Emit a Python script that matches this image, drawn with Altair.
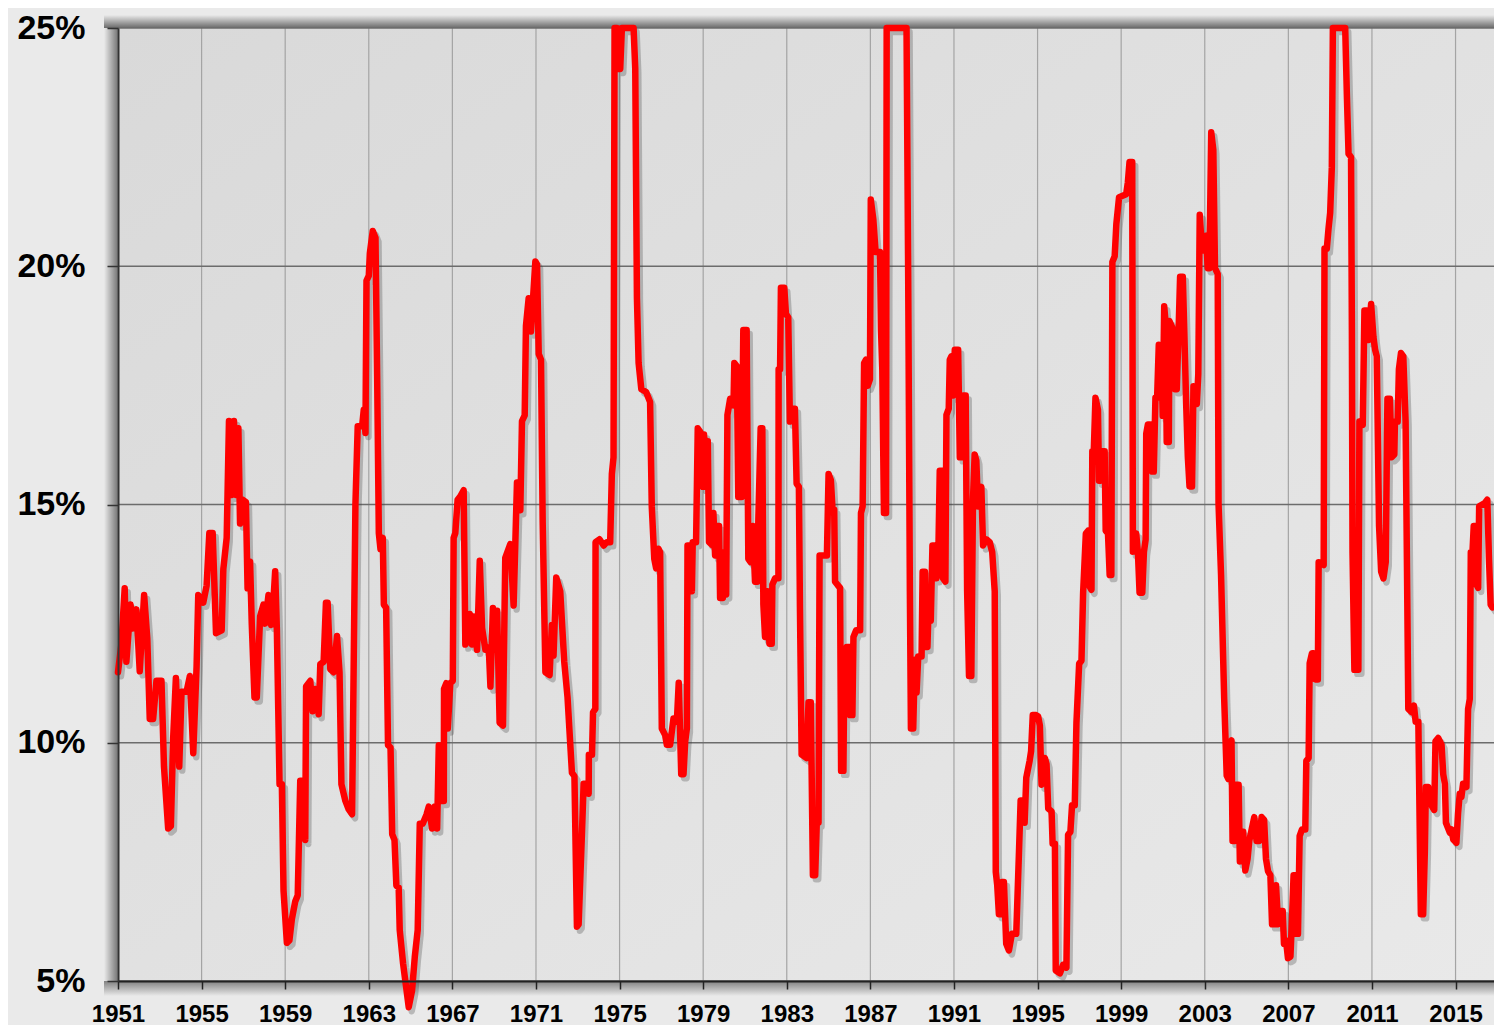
import altair as alt
import pandas as pd

# ---- data (decimal year, percent) ----
YEARS = [
    1951.00, 1951.16, 1951.32, 1951.40, 1951.60, 1951.72, 1951.88, 1952.04,
    1952.25, 1952.40, 1952.52, 1952.68, 1952.84, 1953.08, 1953.20, 1953.40,
    1953.53, 1953.64, 1953.77, 1953.93, 1954.04, 1954.28, 1954.44, 1954.60,
    1954.76, 1954.84, 1955.08, 1955.24, 1955.37, 1955.53, 1955.69, 1955.96,
    1956.04, 1956.20, 1956.31, 1956.44, 1956.55, 1956.65, 1956.76, 1956.84,
    1956.97, 1957.12, 1957.20, 1957.32, 1957.40, 1957.53, 1957.64, 1957.80,
    1957.96, 1958.04, 1958.20, 1958.33, 1958.44, 1958.52, 1958.60, 1958.73,
    1958.84, 1958.92, 1959.08, 1959.20, 1959.32, 1959.48, 1959.60, 1959.72,
    1959.84, 1959.96, 1960.00, 1960.20, 1960.31, 1960.44, 1960.60, 1960.68,
    1960.84, 1960.95, 1961.03, 1961.16, 1961.32, 1961.48, 1961.60, 1961.69,
    1961.88, 1962.04, 1962.20, 1962.36, 1962.47, 1962.68, 1962.76, 1962.84,
    1962.89, 1963.00, 1963.05, 1963.19, 1963.32, 1963.40, 1963.48, 1963.56,
    1963.67, 1963.72, 1963.83, 1963.92, 1964.04, 1964.12, 1964.23, 1964.32,
    1964.43, 1964.48, 1964.64, 1964.91, 1965.07, 1965.20, 1965.34, 1965.44,
    1965.58, 1965.76, 1965.87, 1966.03, 1966.16, 1966.27, 1966.35, 1966.46,
    1966.59, 1966.60, 1966.71, 1966.78, 1966.90, 1967.02, 1967.06, 1967.14,
    1967.25, 1967.38, 1967.54, 1967.62, 1967.78, 1967.83, 1967.94, 1968.02,
    1968.18, 1968.31, 1968.42, 1968.58, 1968.74, 1968.82, 1968.94, 1969.06,
    1969.14, 1969.26, 1969.42, 1969.53, 1969.77, 1969.93, 1970.09, 1970.25,
    1970.33, 1970.46, 1970.52, 1970.65, 1970.76, 1970.86, 1970.97, 1971.05,
    1971.13, 1971.24, 1971.32, 1971.45, 1971.65, 1971.76, 1971.84, 1971.97,
    1972.16, 1972.35, 1972.51, 1972.72, 1972.84, 1972.96, 1973.04, 1973.20,
    1973.28, 1973.41, 1973.52, 1973.53, 1973.68, 1973.73, 1973.84, 1973.85,
    1974.04, 1974.24, 1974.39, 1974.55, 1974.63, 1974.71, 1974.76, 1974.87,
    1974.95, 1975.03, 1975.11, 1975.67, 1975.75, 1975.83, 1975.91, 1976.04,
    1976.27, 1976.46, 1976.54, 1976.66, 1976.75, 1976.86, 1976.94, 1977.02,
    1977.18, 1977.26, 1977.42, 1977.58, 1977.74, 1977.83, 1977.95, 1978.06,
    1978.14, 1978.22, 1978.25, 1978.38, 1978.46, 1978.50, 1978.66, 1978.74,
    1978.85, 1978.98, 1979.04, 1979.14, 1979.22, 1979.28, 1979.46, 1979.49,
    1979.57, 1979.65, 1979.76, 1979.81, 1979.94, 1980.00, 1980.10, 1980.16,
    1980.29, 1980.45, 1980.49, 1980.61, 1980.68, 1980.84, 1980.92, 1981.08,
    1981.16, 1981.27, 1981.37, 1981.48, 1981.59, 1981.64, 1981.75, 1981.83,
    1981.88, 1981.96, 1982.07, 1982.17, 1982.28, 1982.31, 1982.44, 1982.60,
    1982.61, 1982.68, 1982.72, 1982.88, 1982.96, 1983.07, 1983.15, 1983.23,
    1983.39, 1983.47, 1983.58, 1983.63, 1983.71, 1983.95, 1984.04, 1984.15,
    1984.25, 1984.36, 1984.44, 1984.52, 1984.57, 1984.92, 1985.00, 1985.11,
    1985.19, 1985.27, 1985.31, 1985.55, 1985.60, 1985.71, 1985.76, 1985.82,
    1985.87, 1986.00, 1986.03, 1986.14, 1986.19, 1986.32, 1986.51, 1986.55,
    1986.63, 1986.70, 1986.79, 1986.87, 1986.98, 1987.02, 1987.14, 1987.25,
    1987.46, 1987.51, 1987.57, 1987.65, 1987.75, 1987.78, 1988.73, 1988.81,
    1988.89, 1988.94, 1989.05, 1989.13, 1989.21, 1989.29, 1989.45, 1989.50,
    1989.61, 1989.66, 1989.73, 1989.81, 1989.89, 1989.97, 1990.08, 1990.16,
    1990.24, 1990.32, 1990.45, 1990.48, 1990.59, 1990.64, 1990.75, 1990.80,
    1990.88, 1990.96, 1991.04, 1991.20, 1991.28, 1991.39, 1991.44, 1991.56,
    1991.63, 1991.72, 1991.83, 1991.91, 1991.99, 1992.07, 1992.15, 1992.31,
    1992.39, 1992.55, 1992.71, 1992.83, 1992.95, 1993.00, 1993.07, 1993.15,
    1993.23, 1993.30, 1993.39, 1993.50, 1993.63, 1993.77, 1993.98, 1994.11,
    1994.19, 1994.30, 1994.38, 1994.46, 1994.62, 1994.69, 1994.77, 1994.93,
    1995.03, 1995.11, 1995.19, 1995.27, 1995.35, 1995.43, 1995.51, 1995.67,
    1995.72, 1995.83, 1995.87, 1996.07, 1996.22, 1996.38, 1996.46, 1996.57,
    1996.65, 1996.78, 1996.86, 1996.99, 1997.10, 1997.18, 1997.31, 1997.42,
    1997.50, 1997.58, 1997.62, 1997.69, 1997.77, 1997.89, 1997.94, 1998.02,
    1998.10, 1998.21, 1998.26, 1998.37, 1998.45, 1998.53, 1998.58, 1998.69,
    1998.77, 1998.90, 1999.24, 1999.32, 1999.40, 1999.53, 1999.56, 1999.72,
    1999.80, 1999.88, 2000.01, 2000.09, 2000.17, 2000.20, 2000.28, 2000.39,
    2000.48, 2000.56, 2000.64, 2000.72, 2000.80, 2000.91, 2000.99, 2001.06,
    2001.12, 2001.18, 2001.28, 2001.31, 2001.44, 2001.50, 2001.57, 2001.66,
    2001.74, 2001.82, 2001.95, 2002.03, 2002.11, 2002.19, 2002.27, 2002.39,
    2002.46, 2002.54, 2002.62, 2002.69, 2002.76, 2002.87, 2002.98, 2003.06,
    2003.14, 2003.22, 2003.31, 2003.41, 2003.49, 2003.62, 2003.66, 2003.78,
    2003.93, 2004.05, 2004.13, 2004.21, 2004.28, 2004.33, 2004.44, 2004.49,
    2004.62, 2004.68, 2004.78, 2004.84, 2004.94, 2005.05, 2005.13, 2005.25,
    2005.37, 2005.48, 2005.60, 2005.72, 2005.84, 2005.93, 2006.03, 2006.14,
    2006.22, 2006.35, 2006.41, 2006.51, 2006.62, 2006.73, 2006.79, 2006.89,
    2006.98, 2007.10, 2007.17, 2007.25, 2007.33, 2007.38, 2007.46, 2007.54,
    2007.65, 2007.81, 2007.86, 2007.97, 2008.02, 2008.13, 2008.21, 2008.29,
    2008.41, 2008.45, 2008.69, 2008.73, 2008.84, 2008.92, 2009.00, 2009.08,
    2009.13, 2009.72, 2009.80, 2009.88, 2010.00, 2010.04, 2010.07, 2010.16,
    2010.35, 2010.40, 2010.56, 2010.64, 2010.75, 2010.83, 2010.96, 2011.07,
    2011.15, 2011.23, 2011.34, 2011.44, 2011.55, 2011.66, 2011.74, 2011.86,
    2011.94, 2012.07, 2012.10, 2012.23, 2012.29, 2012.39, 2012.50, 2012.61,
    2012.74, 2012.90, 2013.01, 2013.09, 2013.22, 2013.30, 2013.34, 2013.45,
    2013.53, 2013.58, 2013.69, 2013.77, 2013.88, 2013.98, 2014.04, 2014.17,
    2014.33, 2014.41, 2014.49, 2014.54, 2014.73, 2014.81, 2014.89, 2015.04,
    2015.12, 2015.20, 2015.28, 2015.36, 2015.52, 2015.60, 2015.68, 2015.73,
    2015.81, 2015.87, 2015.97, 2016.00, 2016.08, 2016.13, 2016.40, 2016.52,
    2016.60, 2016.68, 2016.76,
]

RATES = [
    11.48, 12.06, 13.24, 11.70, 12.90, 12.40, 12.80, 11.50,
    13.10, 12.20, 10.50, 10.50, 11.30, 11.30, 9.50, 8.20,
    8.25, 10.10, 11.36, 9.50, 11.07, 11.07, 11.40, 9.78,
    11.60, 13.10, 12.94, 13.30, 14.40, 14.40, 12.30, 12.36,
    13.65, 14.30, 16.75, 15.20, 16.75, 15.20, 16.60, 14.60,
    15.10, 15.05, 13.24, 13.80, 12.50, 10.95, 10.95, 12.65,
    12.90, 12.50, 13.10, 12.47, 13.00, 13.60, 12.40, 9.13,
    9.13, 6.90, 5.80, 5.85, 6.30, 6.67, 6.80, 9.20,
    9.20, 7.96, 11.18, 11.30, 10.66, 11.13, 10.60, 11.65,
    11.70, 12.94, 12.94, 11.54, 11.48, 12.24, 11.48, 9.13,
    8.78, 8.60, 8.50, 15.00, 16.64, 16.64, 16.99, 16.50,
    19.70, 19.80, 20.27, 20.74, 20.60, 17.70, 14.40, 14.06,
    14.30, 12.90, 12.83, 9.95, 9.90, 8.08, 7.96, 7.00,
    6.96, 6.07, 5.37, 4.45, 4.80, 5.50, 6.07, 8.30,
    8.30, 8.49, 8.66, 8.20, 8.66, 8.20, 9.95, 8.78,
    8.78, 11.13, 11.25, 10.30, 11.25, 11.30, 14.30, 14.40,
    15.10, 15.17, 15.30, 12.06, 12.18, 12.70, 12.06, 12.65,
    11.95, 13.82, 12.41, 11.95, 12.00, 11.18, 12.83, 11.95,
    12.77, 10.42, 10.36, 13.88, 14.17, 12.88, 15.46, 14.88,
    16.75, 16.87, 18.75, 19.33, 18.63, 19.33, 20.10, 20.04,
    18.16, 18.04, 14.64, 11.48, 11.42, 12.47, 11.83, 13.47,
    13.18, 11.71, 10.95, 9.37, 9.30, 6.14, 6.19, 8.11,
    9.14, 9.14, 8.93, 9.75, 9.75, 10.64, 10.71, 14.21,
    14.27, 14.14, 14.21, 14.21, 15.64, 15.99, 25.00, 25.00,
    24.14, 24.14, 25.00, 25.00, 24.14, 19.34, 17.97, 17.42,
    17.36, 17.15, 14.96, 13.86, 13.66, 14.07, 14.00, 10.30,
    10.16, 9.96, 9.96, 10.51, 10.44, 11.26, 9.34, 9.34,
    10.03, 10.30, 14.14, 14.14, 13.18, 14.21, 14.21, 16.60,
    16.53, 15.37, 16.47, 15.37, 16.33, 14.21, 14.14, 14.82,
    13.93, 14.55, 14.55, 13.04, 13.04, 14.00, 13.11, 16.88,
    17.22, 17.08, 17.97, 17.90, 15.16, 15.16, 18.66, 18.66,
    13.86, 13.79, 14.55, 13.38, 13.38, 14.68, 16.60, 16.60,
    12.90, 12.22, 13.18, 12.08, 12.08, 13.32, 13.45, 13.45,
    17.84, 17.84, 19.55, 19.55, 19.00, 18.93, 16.74, 17.01,
    17.01, 15.44, 15.37, 12.84, 9.75, 9.68, 10.85, 10.85,
    7.22, 7.22, 8.38, 8.32, 13.93, 13.93, 15.64, 15.51,
    14.89, 14.89, 13.38, 13.25, 9.41, 9.41, 11.81, 10.99,
    12.01, 12.01, 10.58, 10.58, 12.22, 12.36, 12.36, 14.82,
    14.96, 17.97, 18.04, 17.49, 17.63, 21.40, 20.99, 20.30,
    20.30, 18.66, 17.84, 14.82, 14.82, 25.00, 25.00, 19.75,
    13.18, 10.30, 10.30, 11.74, 11.05, 11.81, 11.81, 13.59,
    13.59, 12.01, 12.01, 13.18, 12.56, 14.14, 14.14, 13.45,
    13.66, 15.71, 15.71, 13.45, 13.38, 16.88, 17.01, 18.04,
    18.11, 17.29, 18.25, 18.25, 15.99, 15.99, 17.29, 17.29,
    13.18, 11.40, 11.40, 15.10, 16.05, 15.92, 14.96, 15.37,
    14.14, 14.27, 14.21, 14.00, 13.18, 7.29, 7.01, 6.40,
    6.40, 7.08, 7.08, 5.78, 5.64, 5.99, 5.99, 7.70,
    8.79, 8.79, 8.32, 9.27, 9.62, 9.82, 10.58, 10.58,
    10.55, 10.36, 9.12, 9.18, 9.68, 9.55, 8.62, 8.56,
    7.88, 7.88, 5.22, 5.16, 5.34, 5.28, 8.07, 8.13,
    8.69, 8.69, 10.42, 11.66, 11.72, 13.15, 14.39, 14.45,
    13.27, 13.21, 16.12, 16.12, 17.24, 16.99, 15.50, 15.50,
    16.12, 16.12, 14.45, 14.39, 13.52, 13.52, 20.09, 20.21,
    20.89, 21.45, 21.51, 21.76, 22.19, 22.19, 14.01, 14.39,
    14.01, 13.15, 13.15, 14.01, 14.26, 16.49, 16.68, 16.68,
    15.69, 15.69, 17.24, 17.24, 18.35, 18.29, 16.86, 19.16,
    18.85, 16.31, 16.31, 18.85, 18.72, 18.48, 17.42, 17.42,
    18.54, 19.78, 19.78, 18.48, 17.11, 16.00, 15.38, 15.38,
    17.48, 17.11, 17.11, 17.73, 21.08, 20.33, 20.33, 20.64,
    19.96, 19.96, 22.81, 22.44, 19.96, 19.84, 15.01, 13.52,
    10.92, 9.31, 9.24, 9.99, 10.05, 7.94, 7.94, 9.12,
    9.12, 7.51, 7.70, 8.13, 7.32, 7.57, 7.94, 8.19,
    8.44, 7.94, 7.94, 8.44, 8.38, 7.56, 7.30, 7.22,
    6.19, 6.19, 7.01, 6.19, 6.47, 6.47, 5.78, 5.85,
    5.48, 5.51, 6.26, 7.22, 7.22, 5.99, 5.99, 8.04,
    8.18, 8.18, 9.62, 9.68, 11.67, 11.88, 11.88, 11.33,
    11.33, 13.79, 13.73, 20.37, 20.37, 20.78, 21.12, 22.08,
    25.00, 25.00, 23.59, 22.36, 22.29, 18.66, 14.00, 11.53,
    11.53, 16.74, 16.67, 19.07, 19.07, 18.45, 19.21, 18.52,
    18.25, 18.11, 14.55, 13.59, 13.45, 13.79, 17.22, 17.22,
    15.99, 16.05, 16.74, 16.74, 17.84, 18.18, 18.11, 16.74,
    10.71, 10.64, 10.78, 10.44, 10.44, 7.70, 6.40, 6.40,
    7.70, 9.07, 9.07, 8.86, 8.66, 8.59, 10.03, 10.10,
    9.96, 9.34, 9.14, 8.32, 8.11, 8.18, 7.97, 7.90,
    8.52, 8.93, 8.86, 9.14, 9.07, 10.71, 10.92, 14.00,
    14.00, 14.55, 14.55, 13.32, 13.25, 14.96, 15.03, 15.10,
    13.86, 12.90, 12.84,
]

X_TICKS = [1951, 1955, 1959, 1963, 1967, 1971, 1975, 1979, 1983,
           1987, 1991, 1995, 1999, 2003, 2007, 2011, 2015]
Y_TICKS = [5, 10, 15, 20, 25]
X_DOMAIN = [1951, 2016.84]
Y_DOMAIN = [5, 25]

assert len(YEARS) == len(RATES)

W, H = 1376, 953
FONT = "Liberation Sans"

df = pd.DataFrame({"year": YEARS, "pct": RATES})
df["i"] = range(len(df))
one = pd.DataFrame({"k": [0]})
xgrid = pd.DataFrame({"year": X_TICKS})
ygrid = pd.DataFrame({"pct": Y_TICKS})

x_scale = alt.Scale(domain=X_DOMAIN, nice=False, zero=False)
y_scale = alt.Scale(domain=Y_DOMAIN, nice=False, zero=False)

x_axis = alt.Axis(
    values=X_TICKS, format="d", title=None, grid=False,
    labelFont=FONT, labelFontSize=24, labelFontWeight="bold", labelColor="#000000",
    labelPadding=13, labelFlush=False, labelOverlap=False, labelBound=False,
    tickSize=8, tickColor="#222222", tickWidth=1.5,
    domainColor="#222222", domainWidth=2, zindex=1,
)
y_axis = alt.Axis(
    values=Y_TICKS, labelExpr="datum.value + '%'", title=None, grid=False,
    labelFont=FONT, labelFontSize=34, labelFontWeight="bold", labelColor="#000000",
    labelPadding=22, labelFlush=False, labelOverlap=False, labelBound=False,
    tickSize=11, tickColor="#333333", tickWidth=1.5,
    domainColor="#333333", domainWidth=2, zindex=1,
)

bg_grad = alt.LinearGradient(
    gradient="linear", x1=0, y1=0, x2=1, y2=1,
    stops=[alt.GradientStop(color="#D9D9D9", offset=0),
           alt.GradientStop(color="#E9E9E9", offset=1)],
)

def shade(x1, y1, x2, y2, alpha=0.5):
    return alt.LinearGradient(
        gradient="linear", x1=x1, y1=y1, x2=x2, y2=y2,
        stops=[alt.GradientStop(color="rgba(0,0,0,0)", offset=0),
               alt.GradientStop(color=f"rgba(0,0,0,{alpha})", offset=1)],
    )

background = alt.Chart(one).mark_rect(color=bg_grad).encode(
    x=alt.value(0), x2=alt.value(W), y=alt.value(0), y2=alt.value(H)
)
shadow_top = alt.Chart(one).mark_rect(color=shade(0, 0, 0, 1, 0.55)).encode(
    x=alt.value(-14), x2=alt.value(W), y=alt.value(-13), y2=alt.value(0)
)
shadow_left = alt.Chart(one).mark_rect(color=shade(0, 0, 1, 0, 0.5)).encode(
    x=alt.value(-14), x2=alt.value(0), y=alt.value(0), y2=alt.value(H)
)
shadow_bottom = alt.Chart(one).mark_rect(color=shade(0, 1, 0, 0, 0.45)).encode(
    x=alt.value(-14), x2=alt.value(W), y=alt.value(H), y2=alt.value(H + 15)
)

vgrid = alt.Chart(xgrid).mark_rule(color="#A4A4A4", strokeWidth=1.2).encode(
    x=alt.X("year:Q", scale=x_scale, axis=x_axis),
    y=alt.value(0), y2=alt.value(H),
)
hgrid = alt.Chart(ygrid).mark_rule(color="#6C6C6C", strokeWidth=1.6).encode(
    y=alt.Y("pct:Q", scale=y_scale, axis=y_axis),
    x=alt.value(0), x2=alt.value(W),
)

line_shadow = alt.Chart(df).mark_line(
    color="#3A3A3A", opacity=0.28, strokeWidth=6.5, xOffset=3, yOffset=4,
    strokeJoin="round", strokeCap="round",
).encode(
    x=alt.X("year:Q", scale=x_scale, axis=x_axis),
    y=alt.Y("pct:Q", scale=y_scale, axis=y_axis),
    order=alt.Order("i:Q"),
)
line = alt.Chart(df).mark_line(
    color="#FF0000", strokeWidth=6.5, strokeJoin="round", strokeCap="round",
).encode(
    x=alt.X("year:Q", scale=x_scale, axis=x_axis),
    y=alt.Y("pct:Q", scale=y_scale, axis=y_axis),
    order=alt.Order("i:Q"),
)

chart = alt.layer(
    background, shadow_top, shadow_left, shadow_bottom, vgrid, hgrid, line_shadow, line
).properties(
    width=W, height=H,
    autosize=alt.AutoSizeParams(type="none"),
    padding={"left": 110, "top": 20, "right": 0, "bottom": 44},
).configure(
    background="#EAEAEA",
).configure_view(
    stroke=None,
)

chart.save("out.html", embed_options={"renderer": "svg", "actions": False})
